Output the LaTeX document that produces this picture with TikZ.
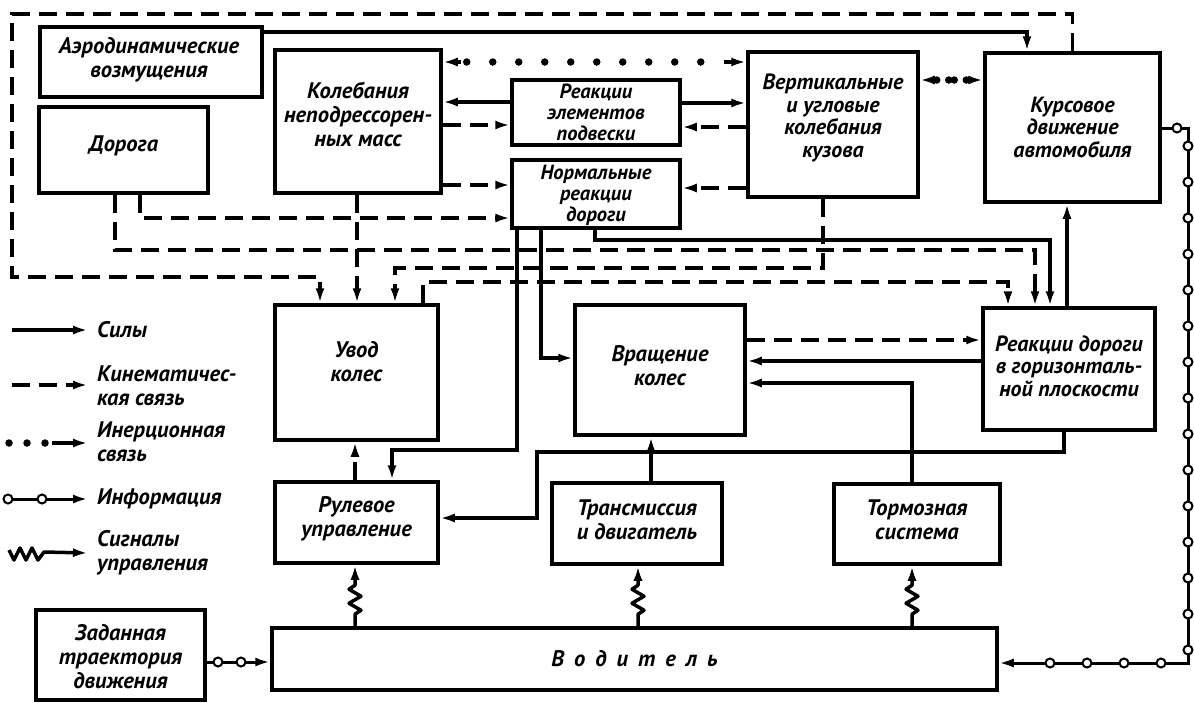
\documentclass[tikz,border=0pt]{standalone}
\usepackage{fontspec}
\setmainfont{PT Sans}
\usetikzlibrary{arrows.meta,calc}
\begin{document}
\begin{tikzpicture}[x=1pt,y=-1pt,
 txt/.style={font=\bfseries\itshape\fontsize{22.5}{24}\selectfont, align=center, inner sep=0pt},
 tight/.style={font=\bfseries\itshape\fontsize{20.5}{21}\selectfont},
 mid/.style={font=\bfseries\itshape\fontsize{22}{22.5}\selectfont},
 ltxt/.style={txt, align=left, anchor=west},
 box/.style={draw, line width=3.5pt, rectangle, inner sep=0pt},
 tip/.style={-{Latex[length=15pt,width=9pt]}},
 force/.style={line width=3.5pt, tip},
 kin/.style={line width=3.5pt, tip, dash pattern=on 18pt off 9pt},
 dots/.style={line width=7.5pt, line cap=round, dash pattern=on 0pt off #1},
 dots/.default=26pt,
 info/.style={line width=3pt, tip},
 circ/.style={circle, draw, fill=white, line width=2pt, minimum size=9pt, inner sep=0pt},
]
\fill[white] (0,0) rectangle (1194,702);
\useasboundingbox (0,0) rectangle (1194,702);

% ---------- boxes ----------
\node[box, minimum width=222pt, minimum height=70pt] (aero) at (151,62) {};
\node[txt] (aerot) at (149,60) {Аэродинамические\\возмущения};
\node[box, minimum width=169pt, minimum height=86pt] (doroga) at (123.5,150) {};
\node[txt] (dorogat) at (123.5,146) {Дорога};
\node[box, minimum width=166pt, minimum height=143pt] (kol) at (358,121.5) {};
\node[txt] (kolt) at (358,114) {Колебания\\неподрессорен-\\ных масс};
\node[box, minimum width=168pt, minimum height=65pt] (rep) at (596,112.5) {};
\node[txt, tight] (rept) at (596,112) {Реакции\\элементов\\подвески};
\node[box, minimum width=168pt, minimum height=68pt] (nrd) at (596,194) {};
\node[txt, tight] (nrdt) at (596,195) {Нормальные\\реакции\\дороги};
\node[box, minimum width=170pt, minimum height=145pt] (vert) at (833,124.5) {};
\node[txt, mid] (vertt) at (833,118) {Вертикальные\\и угловые\\колебания\\кузова};
\node[box, minimum width=175pt, minimum height=149pt] (kurs) at (1072.5,127.5) {};
\node[txt, mid] (kurst) at (1072.5,127) {Курсовое\\движение\\автомобиля};
\node[box, minimum width=163pt, minimum height=135pt] (uvod) at (356.5,372.5) {};
\node[txt] (uvodt) at (356.5,362) {Увод\\колес};
\node[box, minimum width=170pt, minimum height=130pt] (vrash) at (660,370) {};
\node[txt] (vrasht) at (660,366) {Вращение\\колес};
\node[box, minimum width=172pt, minimum height=122pt] (rgor) at (1069,369) {};
\node[txt, mid] (rgort) at (1069,366) {Реакции дороги\\в горизонталь-\\ной плоскости};
\node[box, minimum width=163pt, minimum height=81pt] (rul) at (356.5,522.5) {};
\node[txt] (rult) at (356.5,519) {Рулевое\\управление};
\node[box, minimum width=170pt, minimum height=81pt] (trans) at (637,523.5) {};
\node[txt] (transt) at (637,520) {Трансмиссия\\и двигатель};
\node[box, minimum width=166pt, minimum height=80pt] (torm) at (917,524) {};
\node[txt] (tormt) at (917,520) {Тормозная\\система};
\node[box, minimum width=725pt, minimum height=62pt] (vod) at (634.5,659) {};
\node[txt] (vodt) at (634.5,659) {В\hspace{10pt}о\hspace{10pt}д\hspace{10pt}и\hspace{10pt}т\hspace{10pt}е\hspace{10pt}л\hspace{10pt}ь};
\node[box, minimum width=169pt, minimum height=90pt] (zad) at (120.5,655) {};
\node[txt] (zadt) at (120.5,657) {Заданная\\траектория\\движения};

% ---------- top connectors ----------
\draw[force] (aero.east |- 0,32) -| (1027,0 |- kurs.north);
\draw[kin] (kurs.north) -- (1072.5,14) -| (12,277) -| (320,0 |- uvod.north);

% inertial links
\coordinate (ia1) at (kol.east |- 0,62);
\coordinate (ib1) at (vert.west |- 0,62);
\draw[dots] ($(ia1)!24pt!(ib1)$) -- ($(ib1)!22pt!(ia1)$);
\draw[force] ($(ia1)!18pt!(ib1)$) -- (ia1);
\draw[force] ($(ib1)!22pt!(ia1)$) -- (ib1);
\coordinate (ia2) at (vert.east |- 0,80);
\coordinate (ib2) at (kurs.west |- 0,80);
\draw[dots=12pt] ($(ia2)!17pt!(ib2)$) -- ($(ia2)!30pt!(ib2)$);
\draw[dots=12pt] ($(ib2)!17pt!(ia2)$) -- ($(ib2)!30pt!(ia2)$);
\draw[force] ($(ia2)!13pt!(ib2)$) -- (ia2);
\draw[force] ($(ib2)!13pt!(ia2)$) -- (ib2);

\draw[force] (rep.west |- 0,102) -- (kol.east |- 0,102);
\draw[kin] (kol.east |- 0,125) -- (rep.west |- 0,125);
\draw[force] (rep.east |- 0,103) -- (vert.west |- 0,103);
\draw[kin] (vert.west |- 0,127) -- (rep.east |- 0,127);
\draw[kin] (kol.east |- 0,185) -- (nrd.west |- 0,185);
\draw[kin] (vert.west |- 0,188) -- (nrd.east |- 0,188);
\draw[kin] (140,0 |- doroga.south) |- (nrd.west |- 0,218);
\draw[kin] (115,0 |- doroga.south) |- (1035,250) -- (1035,0 |- rgor.north);
\draw[kin] (357,0 |- kol.south) -- (357,0 |- uvod.north);
\draw[kin] (823,0 |- vert.south) |- (395,268) -- (395,0 |- uvod.north);
\draw[kin] (423,0 |- uvod.north) |- (1008,282) -- (1008,0 |- rgor.north);
\draw[force] (595,0 |- nrd.south) |- (1050,240) -- (1050,0 |- rgor.north);
\draw[force] (541,0 |- nrd.south) |- (vrash.west |- 0,358);
\draw[force] (517,0 |- nrd.south) |- (392,450) -- (392,0 |- rul.north);
\draw[force] (1067,0 |- rgor.north) -- (1067,0 |- kurs.south);

% ---------- middle connectors ----------
\draw[kin] (vrash.east |- 0,340) -- (rgor.west |- 0,340);
\draw[force] (rgor.west |- 0,361) -- (vrash.east |- 0,361);
\draw[force] (912,0 |- torm.north) |- (vrash.east |- 0,383);
\draw[force] (651,0 |- trans.north) -- (651,0 |- vrash.south);
\draw[force] (1064,0 |- rgor.south) |- (537,452) |- (rul.east |- 0,518);
\draw[kin] (355,0 |- rul.north) -- (355,0 |- uvod.south);

% ---------- control signals ----------
\foreach \xx/\bb in {355/rul, 638/trans, 912/torm}{
  \draw[force, line join=round] (vod.north -| \xx,0) -- ++(0,-12) -- ++(6,-4) -- ++(-12,-7) -- ++(12,-7) -- ++(-12,-7) -- ++(6,-4) -- (\xx,0 |- \bb.south);
}

% ---------- information ----------
\draw[info] (zad.east |- 0,662) -- (vod.west |- 0,662);
\node[circ] (c1) at (218,662) {};
\node[circ] (c2) at (241,662) {};
\draw[info] (kurs.east |- 0,128) -| (1188,663) -- (vod.east |- 0,663);
\node[circ] (c3) at (1177,128) {};
\foreach \yy in {146,182,218,254,290,326,362,398,434,470,506,542,578,614,650}{
  \node[circ] at (1188,\yy) {};
}
\foreach \xx in {1050,1087,1124,1161}{
  \node[circ] at (\xx,663) {};
}

% ---------- legend ----------
\coordinate (l1a) at (12,330); \coordinate (l1b) at (88,330);
\draw[force] (l1a) -- (l1b);
\node[ltxt] (l1t) at (97,330) {Силы};
\coordinate (l2a) at (12,385); \coordinate (l2b) at (88,385);
\draw[kin] (l2a) -- (l2b);
\node[ltxt] (l2t) at (97,386) {Кинематичес-\\кая связь};
\coordinate (l3a) at (9,443); \coordinate (l3b) at (88,443);
\draw[dots=18pt] (l3a) -- (45,443);
\draw[force] (52,443) -- (l3b);
\node[ltxt] (l3t) at (97,442) {Инерционная\\связь};
\coordinate (l4a) at (8,499); \coordinate (l4b) at (88,499);
\draw[info] (l4a) -- (l4b);
\node[circ] (l4c1) at (8,499) {};
\node[circ] (l4c2) at (42,499) {};
\node[ltxt] (l4t) at (97,499) {Информация};
\coordinate (l5a) at (9,550); \coordinate (l5b) at (88,553);
\draw[force, line join=round] (l5a) -- ++(5,10) -- ++(6,-12) -- ++(6,12) -- ++(6,-12) -- ++(6,12) -- ++(6,-8) -- (l5b);
\node[ltxt] (l5t) at (97,553) {Сигналы\\управления};
\end{tikzpicture}
\end{document}
